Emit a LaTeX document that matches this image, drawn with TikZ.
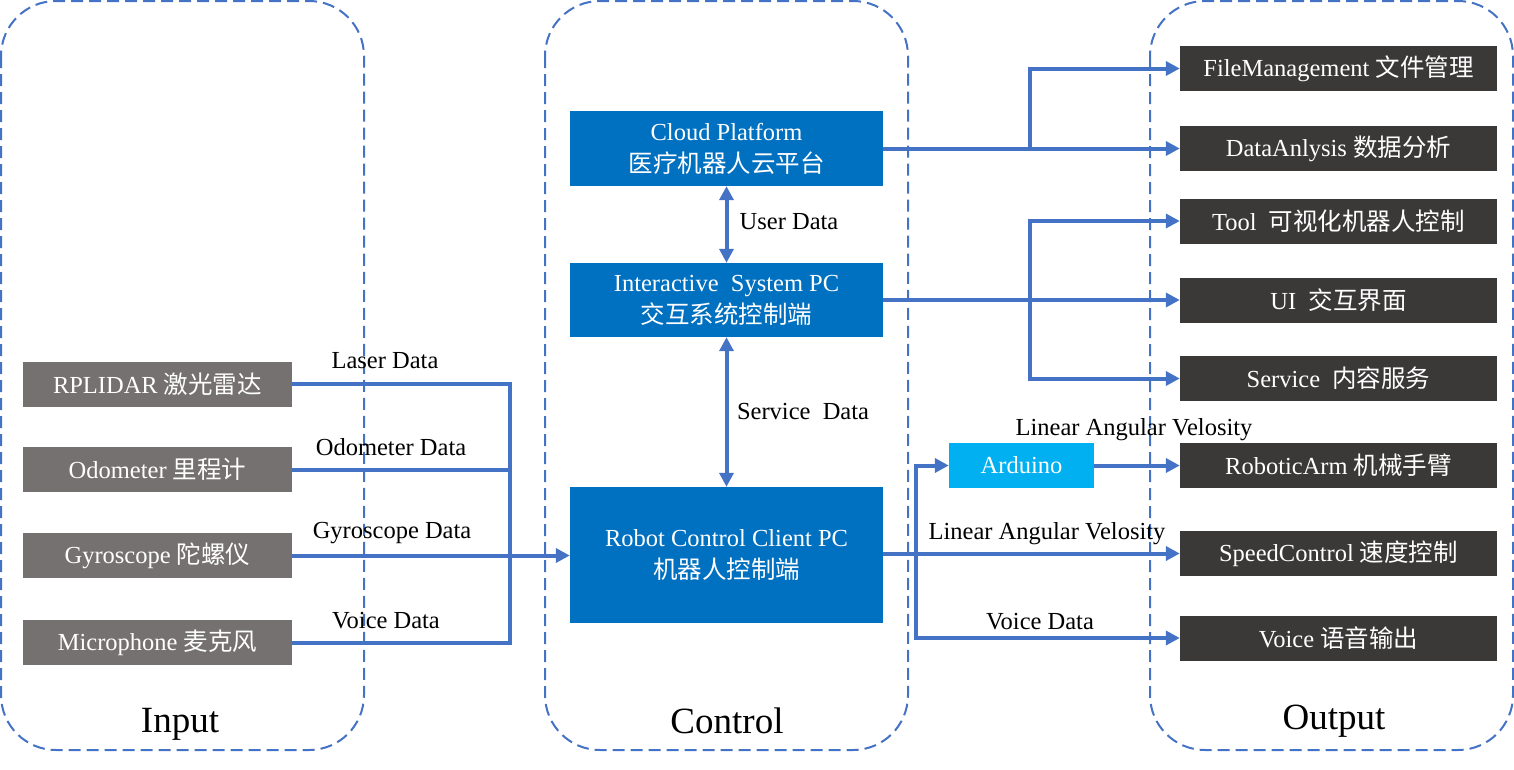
\documentclass[tikz,border=0pt]{standalone}
\usepackage{fontspec}
\setmainfont{Liberation Serif}
\newfontfamily\zh{Noto Sans CJK SC}
\usetikzlibrary{arrows.meta}
\definecolor{frameblue}{HTML}{4472C4}
\definecolor{ingray}{HTML}{767171}
\definecolor{ctrlblue}{HTML}{0070C0}
\definecolor{ardblue}{HTML}{00B0F0}
\definecolor{outdark}{HTML}{3B3838}
\begin{document}
\begin{tikzpicture}[x=1pt, y=-1pt,
  frame/.style={draw=frameblue, line width=2pt, dash pattern=on 12pt off 6pt, rounded corners=55pt},
  inbox/.style={fill=ingray, text=white, minimum width=269pt, minimum height=45pt, inner sep=0pt, font=\fontsize{24.5}{28}\selectfont},
  ctrlbox/.style={fill=ctrlblue, text=white, minimum width=313pt, inner sep=0pt, align=center, font=\fontsize{24.5}{32}\selectfont},
  outbox/.style={fill=outdark, text=white, minimum width=317pt, minimum height=45pt, inner sep=0pt, font=\fontsize{24.5}{28}\selectfont},
  lbl/.style={inner sep=0pt, font=\fontsize{24.5}{28}\selectfont},
  title/.style={inner sep=0pt, font=\fontsize{37}{42}\selectfont},
  line/.style={draw=frameblue, line width=4pt},
  arr/.style={line, -{Triangle[length=14pt,width=14pt]}},
  darr/.style={line, {Triangle[length=14pt,width=14pt]}-{Triangle[length=14pt,width=14pt]}}]
\useasboundingbox (0,0) rectangle (1514,769);
% containers
\draw[frame] (1,1) rectangle (364,750);
\draw[frame] (545,1) rectangle (908,750);
\draw[frame] (1150,1) rectangle (1513,750);
\node[title] (tin) at (180,724){Input};
\node[title] (tctrl) at (727,721){Control};
\node[title] (tout) at (1334,721){Output};
% input
\node[inbox] (lidar) at (157.5,384){RPLIDAR {\zh 激光雷达}};
\node[inbox] (odo) at (157.5,469.5){Odometer {\zh 里程计}};
\node[inbox] (gyro) at (157.5,555.5){Gyroscope {\zh 陀螺仪}};
\node[inbox] (mic) at (157.5,642.5){Microphone {\zh 麦克风}};
% control
\node[ctrlbox, minimum height=75pt] (cloud) at (726.5,148.5){Cloud Platform\\{\zh 医疗机器人云平台}};
\node[ctrlbox, minimum height=74pt] (inter) at (726.5,300){Interactive\ \ System PC\\{\zh 交互系统控制端}};
\node[ctrlbox, minimum height=136pt] (robot) at (726.5,555){Robot Control Client PC\\{\zh 机器人控制端}};
\node[fill=ardblue, text=white, minimum width=145pt, minimum height=45pt, inner sep=0pt, font=\fontsize{24.5}{28}\selectfont] (ard) at (1021.5,465.5){Arduino};
% output
\node[outbox] (file) at (1338.5,68.5){FileManagement {\zh 文件管理}};
\node[outbox] (data) at (1338.5,148.5){DataAnlysis {\zh 数据分析}};
\node[outbox] (tool) at (1338.5,221){Tool\ \ {\zh 可视化机器人控制}};
\node[outbox] (ui) at (1338.5,300){UI\ \ {\zh 交互界面}};
\node[outbox] (serv) at (1338.5,378.5){Service\ \ {\zh 内容服务}};
\node[outbox] (arm) at (1338.5,465.5){RoboticArm {\zh 机械手臂}};
\node[outbox] (speed) at (1338.5,553.5){SpeedControl {\zh 速度控制}};
\node[outbox] (vout) at (1338.5,638){Voice {\zh 语音输出}};
% junctions
\coordinate (jin) at (510,555.5);
\coordinate (jcloud) at (1030,148.5);
\coordinate (jinter) at (1030,300);
\coordinate (jrobot) at (916,555);
% input connectors
\draw[line] (lidar.east) -| (jin);
\draw[line] (mic.east) -| (jin);
\draw[line] (odo.east) -- (odo.east -| jin);
\draw[arr] (gyro.east) -- (robot.west |- gyro.east);
\node[lbl] (llaser) at (385,361){Laser Data};
\node[lbl] (lodo) at (391,447){Odometer Data};
\node[lbl] (lgyro) at (392,533){Gyroscope Data};
\node[lbl] (lvoice) at (386,621){Voice Data};
% control connectors
\draw[darr] (cloud.south) -- (inter.north);
\draw[darr] (inter.south) -- (robot.north);
\node[lbl] (luser) at (789,222){User Data};
\node[lbl] (lserv) at (803,411){Service\ \ Data};
% output connectors
\draw[line] (cloud.east) -- (jcloud);
\draw[arr] (jcloud) |- (file.west);
\draw[arr] (jcloud) -- (data.west);
\draw[line] (inter.east) -- (jinter);
\draw[arr] (jinter) |- (tool.west);
\draw[arr] (jinter) -- (ui.west);
\draw[arr] (jinter) |- (serv.west);
\draw[arr] (robot.east |- speed.west) -- (speed.west);
\draw[arr] (jrobot) |- (ard.west);
\draw[arr] (jrobot) |- (vout.west);
\draw[arr] (ard.east) -- (arm.west);
\node[lbl] (lard) at (1134,430){Linear Angular Velosity};
\node[lbl] (lspeed) at (1047,534){Linear Angular Velosity};
\node[lbl] (lvout) at (1040,622){Voice Data};
\end{tikzpicture}
\end{document}
